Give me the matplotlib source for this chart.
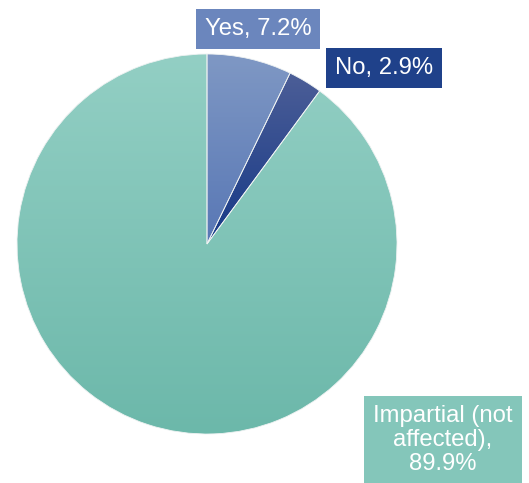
import numpy as np
import matplotlib
matplotlib.use("Agg")
import matplotlib.pyplot as plt
from matplotlib.colors import LinearSegmentedColormap

plt.rcParams["font.family"] = ["Liberation Sans", "DejaVu Sans"]

labels = ["Yes", "No", "Impartial (not\naffected)"]
values = [7.2, 2.9, 89.9]
# gradient (top, bottom) per slice
grad_colors = [("#7f98c4", "#5877b5"), ("#4c5e97", "#163987"), ("#93cfc4", "#6cb8aa")]
box_colors = ["#6b86bd", "#1f418a", "#84c6ba"]

W, H = 529, 483
fig = plt.figure(figsize=(W / 100, H / 100), dpi=100)
ax = fig.add_axes([0, 0, 1, 1])

cx, cy, r = 207, H - 244, 190
wedges, _ = ax.pie(values, startangle=90, counterclock=False, center=(cx, cy),
                   radius=r, frame=True,
                   wedgeprops=dict(edgecolor="#eef2f2", linewidth=0.6))
ax.set_aspect("equal")
ax.set_xlim(0, W)
ax.set_ylim(0, H)
ax.axis("off")

for w, (top, bot) in zip(wedges, grad_colors):
    bb = w.get_path().get_extents(w.get_transform()).transformed(ax.transData.inverted())
    w.set_facecolor("none")
    cmap = LinearSegmentedColormap.from_list("g", [top, bot])
    grad = np.linspace(0, 1, 256).reshape(-1, 1)
    im = ax.imshow(grad, cmap=cmap, aspect="auto", origin="upper",
                   extent=(bb.x0, bb.x1, bb.y0, bb.y1), zorder=0.5,
                   interpolation="bilinear")
    im.set_clip_path(w)
ax.set_xlim(0, W)
ax.set_ylim(0, H)

texts = [f"{lab}, {v}%" for lab, v in zip(labels, values)]
texts[2] = "Impartial (not\naffected),\n89.9%"
pos = [(258, H - 29), (384, H - 68), (443, H - 440)]
for t, (x, y), c in zip(texts, pos, box_colors):
    ax.text(x, y, t, ha="center", va="center", fontsize=17.2, color="white",
            multialignment="center", linespacing=1.12, zorder=5,
            bbox=dict(boxstyle="square,pad=0.38", fc=c, ec="none"))

fig.savefig("out.png", dpi=100)
